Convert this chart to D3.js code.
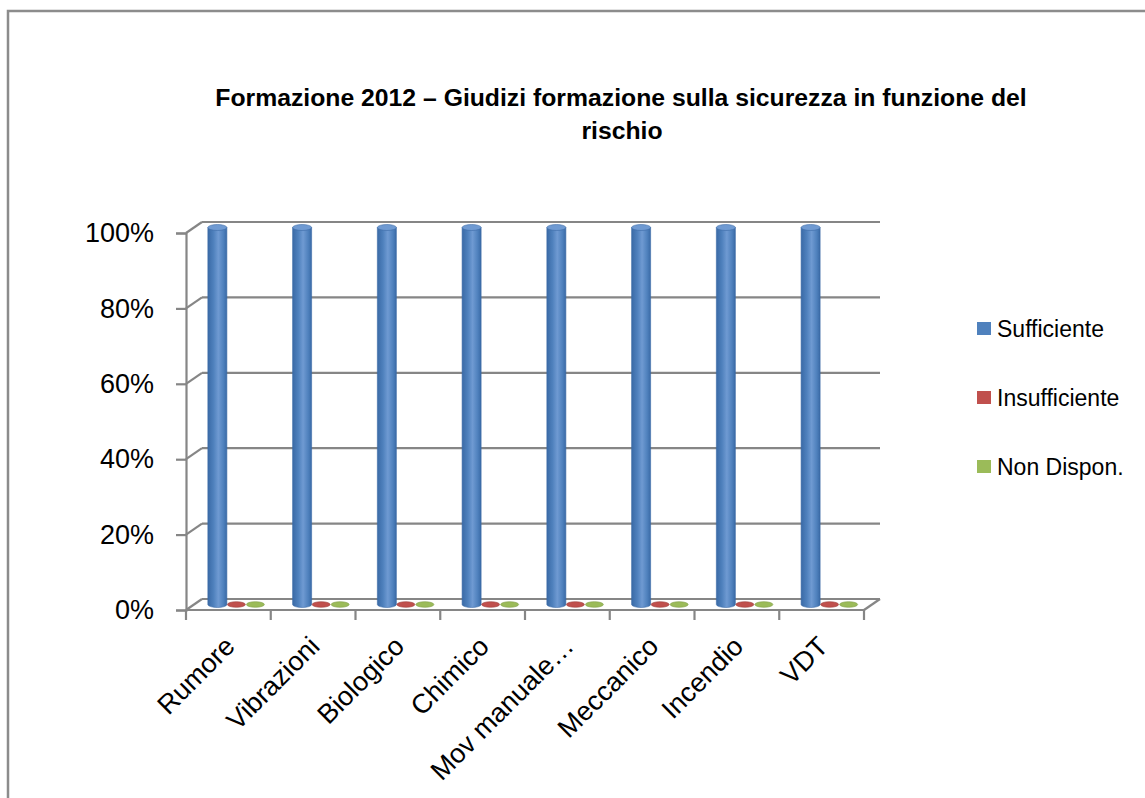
<!DOCTYPE html>
<html>
<head>
<meta charset="utf-8">
<script src="https://cdn.jsdelivr.net/npm/d3@7"></script>
<style>
  html, body { margin: 0; padding: 0; background: #fff; }
  svg { display: block; }
  text { font-family: "Liberation Sans", Arial, sans-serif; fill: #000; }
</style>
</head>
<body>
<svg id="chart" width="1145" height="798"></svg>
<script>
const categories = ["Rumore", "Vibrazioni", "Biologico", "Chimico", "Mov manuale…", "Meccanico", "Incendio", "VDT"];
const seriesNames = ["Sufficiente", "Insufficiente", "Non Dispon."];
const sufficiente   = [1, 1, 1, 1, 1, 1, 1, 1];
const insufficiente = [0, 0, 0, 0, 0, 0, 0, 0];
const nonDispon     = [0, 0, 0, 0, 0, 0, 0, 0];
const yTicks = [0, 0.2, 0.4, 0.6, 0.8, 1];
const titleLines = ["Formazione 2012 – Giudizi formazione sulla sicurezza in funzione del", "rischio"];

const seriesValues = [sufficiente, insufficiente, nonDispon];
const colors = { main: ["#4F81BD", "#C0504D", "#9BBB59"], dark: ["#3a6aa6", "#9a3a37", "#7a9a40"], light: ["#6f9ad2", "#d46f6c", "#b3cf7a"] };

const svg = d3.select("#chart");
const W = 1145, H = 798;

// outer frame
svg.append("rect").attr("x", 8).attr("y", 11).attr("width", W + 20).attr("height", H + 20)
  .attr("fill", "#fff").attr("stroke", "#8c8c8c").attr("stroke-width", 2.5);

// geometry
const front = { x0: 186, x1: 864, yTop: 233, yBot: 610 };
const depth = { dx: 16, dy: -11 };
const mid = { dx: depth.dx / 2, dy: depth.dy / 2 };

const y = d3.scaleLinear().domain([0, 1]).range([front.yBot, front.yTop]);
const xFront = d3.scaleBand().domain(categories).range([front.x0, front.x1]);
const x0 = d3.scaleBand().domain(categories)
  .range([front.x0 + mid.dx, front.x1 + mid.dx]).paddingInner(0.327).paddingOuter(0.1635);
const x1 = d3.scaleBand().domain(seriesNames).range([0, x0.bandwidth()]);

const gridColor = "#868686";

// gridlines on back wall + side diagonals
const grid = svg.append("g");
yTicks.forEach(t => {
  const yf = y(t);
  grid.append("line").attr("x1", front.x0 + depth.dx).attr("x2", front.x1 + depth.dx)
    .attr("y1", yf + depth.dy).attr("y2", yf + depth.dy)
    .attr("stroke", gridColor).attr("stroke-width", 2.2);
  grid.append("line").attr("x1", front.x0).attr("y1", yf)
    .attr("x2", front.x0 + depth.dx).attr("y2", yf + depth.dy)
    .attr("stroke", gridColor).attr("stroke-width", 2.2);
});
// floor front edge and right side
grid.append("line").attr("x1", front.x0).attr("x2", front.x1).attr("y1", front.yBot).attr("y2", front.yBot)
  .attr("stroke", gridColor).attr("stroke-width", 2.2);
grid.append("line").attr("x1", front.x1).attr("y1", front.yBot)
  .attr("x2", front.x1 + depth.dx).attr("y2", front.yBot + depth.dy)
  .attr("stroke", gridColor).attr("stroke-width", 2.2);

// y axis (front vertical) with ticks
const yAxis = d3.axisLeft(y).tickValues(yTicks).tickFormat(d3.format(".0%")).tickSize(10).tickPadding(22);
const gy = svg.append("g").attr("transform", `translate(${front.x0},0)`).call(yAxis);
gy.select(".domain").attr("stroke", gridColor).attr("stroke-width", 2.2);
gy.selectAll(".tick line").attr("stroke", gridColor).attr("stroke-width", 2.2);
gy.selectAll(".tick text").style("font-size", "27px").style("font-family", '"Liberation Sans", Arial, sans-serif')
  .attr("fill", "#000");

// x axis ticks on front floor edge
const tickPos = categories.map(c => xFront(c)).concat([front.x1]);
const gx = svg.append("g");
gx.selectAll("line").data(tickPos).join("line")
  .attr("x1", d => d).attr("x2", d => d).attr("y1", front.yBot).attr("y2", front.yBot + 10)
  .attr("stroke", gridColor).attr("stroke-width", 2.2);
gx.selectAll("text").data(categories).join("text")
  .attr("text-anchor", "end")
  .attr("transform", d => `translate(${xFront(d) + xFront.bandwidth() / 2 + 8},648) rotate(-45)`)
  .style("font-size", "27px")
  .text(d => d);

// gradients
const defs = svg.append("defs");
seriesNames.forEach((s, i) => {
  const g = defs.append("linearGradient").attr("id", "grad" + i).attr("x1", "0%").attr("x2", "100%").attr("y1", "0%").attr("y2", "0%");
  g.append("stop").attr("offset", "0%").attr("stop-color", colors.dark[i]);
  g.append("stop").attr("offset", "30%").attr("stop-color", colors.main[i]);
  g.append("stop").attr("offset", "55%").attr("stop-color", colors.light[i]);
  g.append("stop").attr("offset", "82%").attr("stop-color", colors.main[i]);
  g.append("stop").attr("offset", "100%").attr("stop-color", colors.dark[i]);
});

// cylinders
const bars = svg.append("g");
categories.forEach((c, ci) => {
  seriesNames.forEach((s, si) => {
    const v = seriesValues[si][ci];
    const bx = x0(c) + x1(s);
    const bw = x1.bandwidth();
    const cx = bx + bw / 2;
    const rx = bw / 2;
    const ry = 3;
    const yb = y(0) + mid.dy;
    const yt = y(v) + mid.dy;
    if (v > 0) {
      const body = `M${cx - rx},${yt} L${cx - rx},${yb} A${rx},${ry} 0 0 0 ${cx + rx},${yb} L${cx + rx},${yt} Z`;
      bars.append("path").attr("d", body).attr("fill", `url(#grad${si})`)
        .attr("stroke", colors.dark[si]).attr("stroke-width", 0.6);
      bars.append("ellipse").attr("cx", cx).attr("cy", yt).attr("rx", rx).attr("ry", ry)
        .attr("fill", colors.light[si]).attr("stroke", colors.dark[si]).attr("stroke-width", 0.6);
    } else {
      bars.append("ellipse").attr("cx", cx).attr("cy", yb).attr("rx", rx - 0.5).attr("ry", 2.8)
        .attr("fill", colors.main[si]).attr("stroke", colors.dark[si]).attr("stroke-width", 0.6);
    }
  });
});

// title
function fitWidth(sel, target) {
  const w = sel.node().getComputedTextLength();
  const fs = parseFloat(sel.style("font-size"));
  sel.style("font-size", (fs * target / w) + "px");
}
const t1 = svg.append("text").attr("x", 621).attr("y", 106).attr("text-anchor", "middle")
  .style("font-size", "20px").style("font-weight", "bold").text(titleLines[0]);
fitWidth(t1, 812);
const tfs = t1.style("font-size");
svg.append("text").attr("x", 622).attr("y", 139).attr("text-anchor", "middle")
  .style("font-size", tfs).style("font-weight", "bold").text(titleLines[1]);

// legend
const legend = svg.append("g");
const legendY = [329, 398, 467];
seriesNames.forEach((s, i) => {
  legend.append("rect").attr("x", 977).attr("y", legendY[i] - 7).attr("width", 14).attr("height", 13)
    .attr("fill", colors.main[i]);
  legend.append("text").attr("x", 997).attr("y", legendY[i] + 8).style("font-size", "23px").text(s);
});
</script>
</body>
</html>
